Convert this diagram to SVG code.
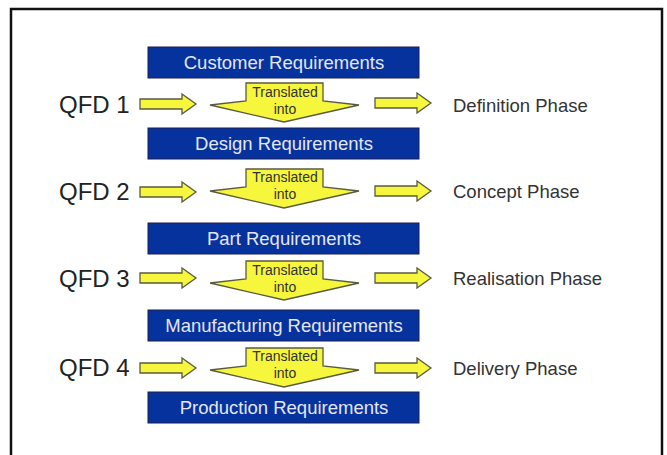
<svg xmlns="http://www.w3.org/2000/svg" xmlns:xlink="http://www.w3.org/1999/xlink" width="667" height="455" viewBox="0 0 667 455">
<defs>
<style>
.frame{fill:#ffffff;stroke:#111111;stroke-width:2.5}
.box{fill:#06329e;stroke:#1c1c50;stroke-width:1}
.btxt{font-family:"Liberation Sans",Arial,sans-serif;font-size:18.5px;fill:#e4e6f2;text-anchor:middle}
.yel{fill:#f6f63c;stroke:#5a5a40;stroke-width:1.3;stroke-linejoin:miter}
.ttxt{font-family:"Liberation Sans",Arial,sans-serif;font-size:14px;fill:#333333;text-anchor:middle}
.qfd{font-family:"Liberation Sans",Arial,sans-serif;font-size:24px;fill:#222222}
.phase{font-family:"Liberation Sans",Arial,sans-serif;font-size:18.5px;fill:#333333}
</style>
<path id="side" d="M0,-5 H42 V-10 L56,0 L42,10 V5 H0 Z"/>
<path id="down" d="M246,-22 H323 V-4 L359,0 L284,17 L210,0 L246,-4 Z"/>
</defs>
<rect class="frame" x="11" y="9" width="651" height="470"/>

<g id="connectors">
  <use xlink:href="#side" class="yel" x="140" y="104"/>
  <use xlink:href="#side" class="yel" x="375" y="103"/>
  <use xlink:href="#down" class="yel" x="0" y="105"/>
  <use xlink:href="#side" class="yel" x="140" y="192"/>
  <use xlink:href="#side" class="yel" x="375" y="191"/>
  <use xlink:href="#down" class="yel" x="0" y="191"/>
  <use xlink:href="#side" class="yel" x="140" y="278"/>
  <use xlink:href="#side" class="yel" x="375" y="278"/>
  <use xlink:href="#down" class="yel" x="0" y="283"/>
  <use xlink:href="#side" class="yel" x="140" y="368"/>
  <use xlink:href="#side" class="yel" x="375" y="368"/>
  <use xlink:href="#down" class="yel" x="0" y="370"/>
  <text class="ttxt" x="285" y="97">Translated</text>
  <text class="ttxt" x="285" y="114">into</text>
  <text class="ttxt" x="285" y="182">Translated</text>
  <text class="ttxt" x="285" y="199">into</text>
  <text class="ttxt" x="285" y="275">Translated</text>
  <text class="ttxt" x="285" y="292">into</text>
  <text class="ttxt" x="285" y="361">Translated</text>
  <text class="ttxt" x="285" y="378">into</text>
</g>

<g id="customer-requirements">
  <rect class="box" x="148" y="47" width="271" height="31"/>
  <text class="btxt" x="284" y="69">Customer Requirements</text>
</g>
<g id="design-requirements">
  <rect class="box" x="148" y="128" width="271" height="31"/>
  <text class="btxt" x="284" y="150">Design Requirements</text>
</g>
<g id="part-requirements">
  <rect class="box" x="148" y="223" width="271" height="31"/>
  <text class="btxt" x="284" y="245">Part Requirements</text>
</g>
<g id="manufacturing-requirements">
  <rect class="box" x="148" y="310" width="271" height="31"/>
  <text class="btxt" x="284" y="332">Manufacturing Requirements</text>
</g>
<g id="production-requirements">
  <rect class="box" x="148" y="392" width="271" height="31"/>
  <text class="btxt" x="284" y="414">Production Requirements</text>
</g>

<g id="qfd1"><text class="qfd" x="59" y="113">QFD 1</text></g>
<g id="qfd2"><text class="qfd" x="59" y="200">QFD 2</text></g>
<g id="qfd3"><text class="qfd" x="59" y="287">QFD 3</text></g>
<g id="qfd4"><text class="qfd" x="59" y="376">QFD 4</text></g>

<g id="definition-phase"><text class="phase" x="453" y="112">Definition Phase</text></g>
<g id="concept-phase"><text class="phase" x="453" y="198">Concept Phase</text></g>
<g id="realisation-phase"><text class="phase" x="453" y="285">Realisation Phase</text></g>
<g id="delivery-phase"><text class="phase" x="453" y="375">Delivery Phase</text></g>
</svg>
